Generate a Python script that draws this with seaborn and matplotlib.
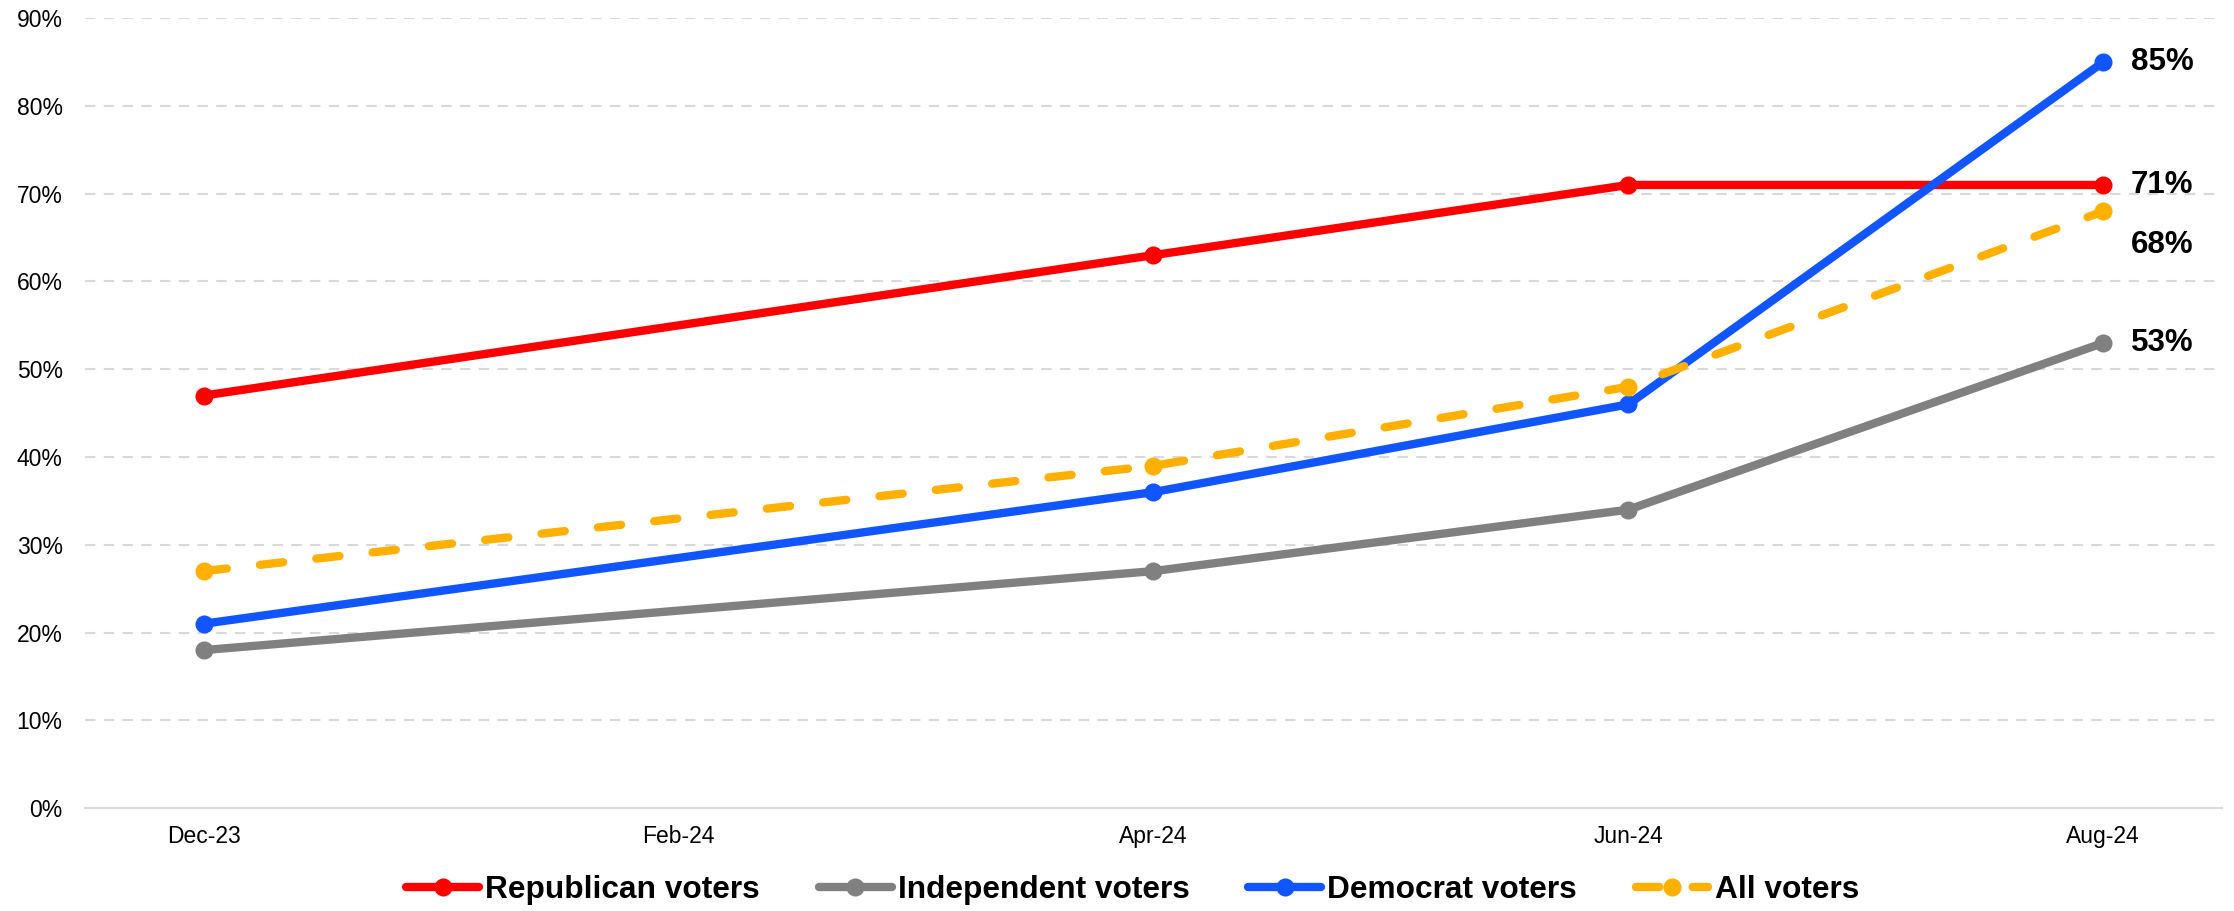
import pandas as pd
import matplotlib.pyplot as plt
import seaborn as sns

# =========================
# DATA
# =========================

tick_labels = ["Dec-23", "Feb-24", "Apr-24", "Jun-24", "Aug-24"]
tick_months = [0, 2, 4, 6, 8]          # months since Dec-23

survey_months = [0, 4, 6, 8]           # Dec-23, Apr-24, Jun-24, Aug-24

republican = [47, 63, 71, 71]
independent = [18, 27, 34, 53]
democrat = [21, 36, 46, 85]
all_voters = [27, 39, 48, 68]

series_names = ["Republican voters", "Independent voters", "Democrat voters", "All voters"]
series_values = [republican, independent, democrat, all_voters]
series_colors = ["#FF0000", "#808080", "#1155FF", "#FFB000"]

# =========================
# STYLE
# =========================

sns.set_style("white")
plt.rcParams["font.family"] = ["Liberation Sans", "DejaVu Sans"]
plt.rcParams["text.color"] = "black"
plt.rcParams["xtick.color"] = "black"
plt.rcParams["ytick.color"] = "black"

fig = plt.figure(figsize=(22.34, 9.11), dpi=100)
ax = fig.add_axes([0.038, 0.113, 0.9566, 0.867])

# =========================
# LINES
# =========================

for name, values, color in zip(series_names, series_values, series_colors):
    df = pd.DataFrame({"month": survey_months, "value": values})
    line_kw = dict(lw=6, marker="o", markersize=13, markeredgewidth=0,
                   color=color, label=name, ax=ax)
    if name == "All voters":
        line_kw["dashes"] = (2.8, 4.0)
    sns.lineplot(data=df, x="month", y="value", **line_kw)
    if name == "All voters":
        ax.lines[-1].set_dash_capstyle("round")

# end labels
label_offsets = {"Republican voters": 0, "Independent voters": 0,
                 "Democrat voters": 0, "All voters": -24}
for name, values in zip(series_names, series_values):
    ax.annotate(f"{values[-1]}%", xy=(survey_months[-1], values[-1]),
                xytext=(20, label_offsets[name]), textcoords="offset points",
                ha="left", va="center", fontsize=22.5, fontweight="bold")

# =========================
# AXES
# =========================

ax.set_xlim(-0.5, 8.5)
ax.set_ylim(0, 90)
ax.set_xticks(tick_months)
ax.set_xticklabels(tick_labels)
ax.set_yticks(range(0, 91, 10))
ax.set_yticklabels([f"{v}%" for v in range(0, 91, 10)])
ax.tick_params(axis="both", labelsize=16.5, length=0)
ax.tick_params(axis="x", pad=12)
ax.tick_params(axis="y", pad=16)
ax.set_xlabel("")
ax.set_ylabel("")

for y in range(10, 91, 10):
    ax.axhline(y, color="#D9D9D9", lw=1.5, dashes=(5, 4), zorder=0)

for side in ["top", "right", "left"]:
    ax.spines[side].set_visible(False)
ax.spines["bottom"].set_color("#D9D9D9")
ax.spines["bottom"].set_linewidth(1.5)

if ax.legend_:
    ax.legend_.remove()

handles, labels = ax.get_legend_handles_labels()
fig.legend(handles, labels, loc="center", bbox_to_anchor=(0.507, 0.023),
           ncol=4, frameon=False, handlelength=2.3, handletextpad=0.2,
           columnspacing=1.85, prop={"size": 22.8, "weight": "bold"})

plt.savefig("out.png", dpi=100)
